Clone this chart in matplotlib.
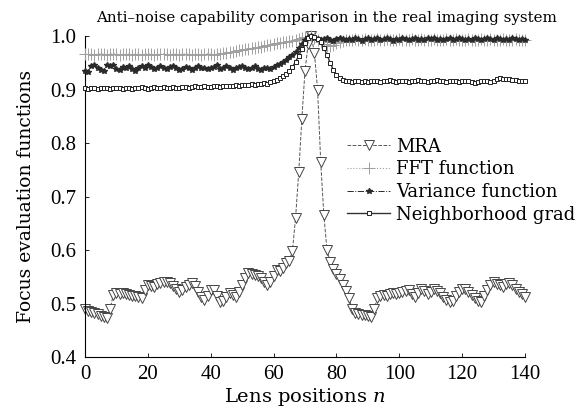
import numpy as np
import matplotlib
matplotlib.use('Agg')
import matplotlib.pyplot as plt

plt.rcParams['font.family'] = 'DejaVu Serif'
plt.rcParams['mathtext.fontset'] = 'dejavuserif'

# posiciones de la lente
n = np.arange(0, 141)

mra = [
    0.490, 0.487, 0.485, 0.482, 0.480, 0.477, 0.475, 0.473, 0.490, 0.516,
    0.520, 0.518, 0.519, 0.517, 0.516, 0.515, 0.514, 0.512, 0.510, 0.525,
    0.535, 0.533, 0.531, 0.536, 0.538, 0.540, 0.541, 0.539, 0.533, 0.527,
    0.522, 0.525, 0.530, 0.535, 0.538, 0.532, 0.522, 0.512, 0.507, 0.515,
    0.525, 0.526, 0.515, 0.503, 0.505, 0.512, 0.520, 0.516, 0.512, 0.522,
    0.535, 0.548, 0.557, 0.556, 0.554, 0.552, 0.547, 0.540, 0.535, 0.540,
    0.552, 0.563, 0.560, 0.566, 0.575, 0.580, 0.598, 0.660, 0.745, 0.845,
    0.935, 0.985, 1.000, 0.968, 0.900, 0.765, 0.665, 0.600, 0.578, 0.565,
    0.555, 0.545, 0.535, 0.524, 0.510, 0.490, 0.482, 0.480, 0.479, 0.478,
    0.476, 0.475, 0.490, 0.510, 0.514, 0.516, 0.515, 0.517, 0.519, 0.518,
    0.520, 0.522, 0.524, 0.526, 0.518, 0.512, 0.520, 0.527, 0.524, 0.518,
    0.522, 0.528, 0.524, 0.519, 0.512, 0.506, 0.502, 0.504, 0.515, 0.522,
    0.528, 0.527, 0.522, 0.516, 0.510, 0.505, 0.503, 0.514, 0.525, 0.535,
    0.540, 0.537, 0.534, 0.531, 0.536, 0.538, 0.534, 0.528, 0.522, 0.517,
    0.512,
]

fft = [
    0.967, 0.966, 0.967, 0.965, 0.966, 0.967, 0.966, 0.965, 0.966, 0.967,
    0.966, 0.965, 0.966, 0.966, 0.967, 0.965, 0.966, 0.966, 0.965, 0.966,
    0.967, 0.966, 0.965, 0.966, 0.966, 0.967, 0.966, 0.965, 0.966, 0.966,
    0.965, 0.966, 0.967, 0.966, 0.965, 0.966, 0.966, 0.965, 0.966, 0.967,
    0.966, 0.965, 0.966, 0.967, 0.968, 0.969, 0.970, 0.971, 0.972, 0.973,
    0.974, 0.975, 0.976, 0.977, 0.978, 0.979, 0.980, 0.981, 0.983, 0.984,
    0.985, 0.986, 0.987, 0.988, 0.989, 0.990, 0.991, 0.993, 0.994, 0.996,
    0.998, 0.999, 1.000, 0.997, 0.993, 0.989, 0.985, 0.982, 0.981, 0.983,
    0.986, 0.989, 0.991, 0.992, 0.993, 0.992, 0.994, 0.993, 0.992, 0.994,
    0.993, 0.992, 0.993, 0.994, 0.993, 0.992, 0.994, 0.993, 0.992, 0.993,
    0.994, 0.993, 0.992, 0.993, 0.994, 0.993, 0.992, 0.994, 0.993, 0.992,
    0.993, 0.994, 0.993, 0.992, 0.993, 0.994, 0.993, 0.992, 0.994, 0.993,
    0.992, 0.993, 0.994, 0.993, 0.992, 0.993, 0.994, 0.993, 0.992, 0.994,
    0.993, 0.992, 0.993, 0.994, 0.993, 0.992, 0.993, 0.994, 0.993, 0.992,
    0.993,
]

varianza = [
    0.934, 0.933, 0.944, 0.946, 0.940, 0.937, 0.935, 0.945, 0.943, 0.946,
    0.939, 0.936, 0.942, 0.940, 0.944, 0.938, 0.935, 0.941, 0.943, 0.940,
    0.945, 0.942, 0.939, 0.941, 0.943, 0.940, 0.938, 0.942, 0.944, 0.941,
    0.936, 0.939, 0.942, 0.940, 0.937, 0.941, 0.943, 0.940, 0.941, 0.938,
    0.940, 0.942, 0.945, 0.939, 0.941, 0.943, 0.940, 0.937, 0.940, 0.942,
    0.944, 0.940, 0.938, 0.941, 0.943, 0.939, 0.937, 0.940, 0.941, 0.939,
    0.942, 0.945, 0.948, 0.952, 0.956, 0.960, 0.965, 0.970, 0.977, 0.985,
    0.993, 0.998, 1.000, 0.997, 0.994, 0.992, 0.994, 0.996, 0.993, 0.991,
    0.995, 0.997, 0.994, 0.992, 0.995, 0.993, 0.996, 0.994, 0.991, 0.995,
    0.997, 0.993, 0.994, 0.996, 0.992, 0.995, 0.997, 0.994, 0.991, 0.995,
    0.993, 0.996, 0.994, 0.992, 0.995, 0.997, 0.993, 0.995, 0.992, 0.996,
    0.994, 0.997, 0.993, 0.995, 0.992, 0.994, 0.996, 0.993, 0.995, 0.997,
    0.994, 0.992, 0.995, 0.993, 0.996, 0.994, 0.992, 0.995, 0.997, 0.994,
    0.993, 0.996, 0.994, 0.992, 0.995, 0.993, 0.996, 0.994, 0.992, 0.994,
    0.993,
]

vecindad = [
    0.902, 0.901, 0.902, 0.903, 0.901, 0.902, 0.903, 0.902, 0.901, 0.902,
    0.903, 0.902, 0.901, 0.903, 0.902, 0.901, 0.902, 0.903, 0.904, 0.902,
    0.901, 0.903, 0.904, 0.902, 0.903, 0.904, 0.902, 0.903, 0.905, 0.903,
    0.902, 0.904, 0.905, 0.903, 0.904, 0.906, 0.904, 0.905, 0.906, 0.905,
    0.904, 0.906, 0.907, 0.905, 0.906, 0.907, 0.906, 0.907, 0.908, 0.907,
    0.908, 0.909, 0.908, 0.910, 0.909, 0.911, 0.910, 0.912, 0.911, 0.914,
    0.916, 0.918, 0.921, 0.925, 0.929, 0.935, 0.942, 0.952, 0.963, 0.975,
    0.987, 0.996, 1.000, 0.998, 0.994, 0.988, 0.978, 0.965, 0.950, 0.937,
    0.928, 0.922, 0.918, 0.916, 0.915, 0.914, 0.915, 0.916, 0.914, 0.915,
    0.914, 0.915, 0.916, 0.915, 0.914, 0.915, 0.916, 0.917, 0.915, 0.914,
    0.915, 0.916, 0.915, 0.914, 0.915, 0.916, 0.917, 0.916, 0.915, 0.914,
    0.915, 0.916, 0.917, 0.916, 0.915, 0.914, 0.915, 0.916, 0.915, 0.914,
    0.915, 0.916, 0.915, 0.914, 0.913, 0.914, 0.915, 0.916, 0.915, 0.914,
    0.916, 0.920, 0.921, 0.920, 0.919, 0.920, 0.918, 0.917, 0.916, 0.915,
    0.915,
]

etiquetas = ['MRA', 'FFT function', 'Variance function', 'Neighborhood grad']

fig = plt.figure(figsize=(5.84, 4.09), dpi=100)
ax = fig.add_axes([0.1455, 0.127, 0.7535, 0.785])

ax.plot(n, mra, linestyle='--', linewidth=0.7, color='#555555', marker='v',
        markersize=7, markerfacecolor='white', markeredgecolor='#444444',
        markeredgewidth=0.7, label=etiquetas[0], clip_on=False, zorder=2)
ax.plot(n, fft, linestyle=':', linewidth=0.8, color='#a0a0a0', marker='+',
        markersize=8, markeredgewidth=0.7, label=etiquetas[1], clip_on=False, zorder=3)
ax.plot(n, varianza, linestyle='-.', linewidth=0.7, color='#2a2a2a', marker='*',
        markersize=4, label=etiquetas[2], clip_on=False, zorder=4)
ax.plot(n, vecindad, linestyle='-', linewidth=1.0, color='#333333', marker='s',
        markersize=3.5, markerfacecolor='white', markeredgecolor='#222222',
        markeredgewidth=0.7, label=etiquetas[3], clip_on=False, zorder=5)

ax.set_xlim(0, 140)
ax.set_ylim(0.4, 1.0)
ax.set_xticks(np.arange(0, 141, 20))
ax.set_yticks(np.arange(0.4, 1.01, 0.1))
ax.set_yticklabels(['0.4', '0.5', '0.6', '0.7', '0.8', '0.9', '1.0'])
ax.tick_params(direction='in', length=3, width=0.6, pad=6)
for lbl in ax.get_xticklabels() + ax.get_yticklabels():
    lbl.set_fontfamily('Liberation Serif')
    lbl.set_fontsize(15)
ax.spines['top'].set_visible(False)
ax.spines['right'].set_visible(False)
ax.spines['left'].set_linewidth(0.8)
ax.spines['bottom'].set_linewidth(0.8)

ax.set_xlabel('Lens positions $n$', fontsize=14, labelpad=1)
ax.set_ylabel('Focus evaluation functions', fontsize=13.5, labelpad=11)
titulo = ax.set_title('Anti\u2013noise capability comparison in the real imaging system',
                      fontsize=10.8, pad=10)
titulo.set_x(0.548)

ax.legend(loc='upper left', bbox_to_anchor=(0.567, 0.723), frameon=False,
          fontsize=13, handlelength=2.4, handletextpad=0.3, labelspacing=0.26,
          borderpad=0.2)

fig.savefig('out.png', dpi=100)
